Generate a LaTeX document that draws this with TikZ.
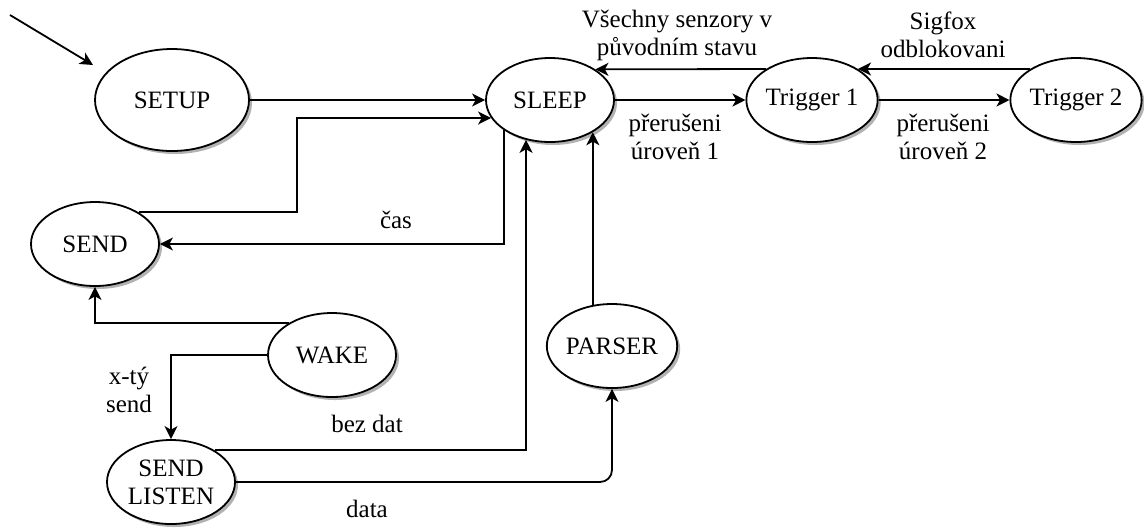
\documentclass[tikz,border=0pt]{standalone}
\usepackage{fontspec}
\setmainfont{Liberation Serif}
\usetikzlibrary{arrows.meta}
\usetikzlibrary{shapes}
\usetikzlibrary{shadows}
\tikzstyle{tips}=[%
	 btip/.tip = {Stealth[length=6.5pt, width=6.5pt, inset=1.8pt]},
	 -btip]

\begin{document}
\begin{tikzpicture}[tips, x=0.5pt, y=-0.5pt, line width=0.9pt, font=\fontsize{12.5}{14}\selectfont]
			\tikzstyle{stav}=[ellipse, draw, fill=white, inner sep=0pt, minimum width=64pt, minimum height=42pt, align=center, drop shadow={shadow xshift=1.5pt, shadow yshift=-1.5pt, fill=gray!60, opacity=1}]
			\tikzstyle{popis}=[inner sep=0pt, align=center]
			\useasboundingbox (0,0) rectangle (1144,527);
			% stavy
			\node[stav, minimum width=77pt, minimum height=51pt] (setup) at (172,100) {SETUP};
			\node[stav] (sleep) at (550,100) {SLEEP};
			\node[stav] (trig1) at (812,100) {Trigger 1};
			\node[stav] (trig2) at (1076,100) {Trigger 2};
			\node[stav] (send) at (95,244) {SEND};
			\node[stav] (wake) at (332,355) {WAKE};
			\node[stav] (parser) at (612,346) {PARSER};
			\node[stav] (listen) at (171,482) {SEND\\LISTEN};
			% popisky
			\node[popis] (navrat) at (677,35) {Všechny senzory v\\původním stavu};
			\node[popis] (sigfox) at (943,35) {Sigfox\\odblokovani};
			\node[popis] (prer1) at (675,137) {přerušeni\\úroveň 1};
			\node[popis] (prer2) at (943,137) {přerušeni\\úroveň 2};
			\node[popis, anchor=base] (cas) at (396,228) {čas};
			\node[popis] (xty) at (129,390) {x-tý\\send};
			\node[popis, anchor=base] (bezdat) at (367,432) {bez dat};
			\node[popis, anchor=base] (data) at (367,517) {data};
			% prechody
			\coordinate (vstup) at (10,15);
			\coordinate (vstupkonec) at (93,65);
			\draw (vstup) -- (vstupkonec);
			\draw (setup.east) -- (sleep.west);
			\draw (send.36) -| ([shift={(-194,0)}]sleep.197) -- (sleep.197);
			\draw (sleep.213) |- (send.east);
			\draw (wake.143) -| (send.south);
			\draw (wake.west) -| (listen.north);
			\draw (listen.36) -| (sleep.239);
			\draw[rounded corners=6pt] (listen.east) -| (parser.south);
			\draw (parser.115) -- (parser.115 |- sleep.323);
			\draw (sleep.east) -- (trig1.west);
			\draw (trig1.east) -- (trig2.west);
			\draw (trig2.146) -- (trig1.34);
			\draw (trig1.146) -- (sleep.34);
		\end{tikzpicture}
\end{document}
